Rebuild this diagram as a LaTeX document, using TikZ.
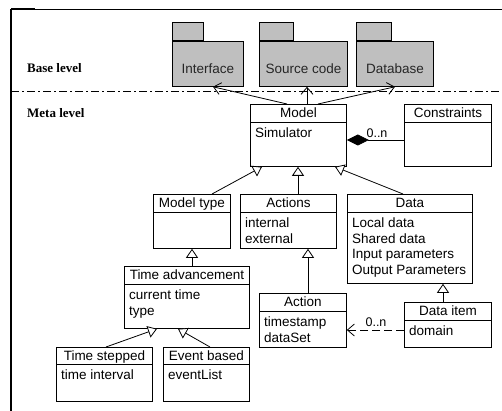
\documentclass[tikz,border=0pt]{standalone}
\usepackage{fontspec}
\setmainfont{Liberation Sans}
\newfontfamily\serifb{Liberation Serif}
\usetikzlibrary{arrows.meta}
\tikzset{
  box/.style={draw, line width=0.8pt, inner sep=0pt, fill=white},
  pkg/.style={draw, line width=0.8pt, inner sep=0pt, fill=gray!50},
  ttl/.style={inner sep=0pt, text height=9.7pt, text depth=0pt, font=\fontsize{13.5}{15.5}\selectfont},
  att/.style={inner sep=0pt, align=left, anchor=north west, font=\fontsize{13.5}{15.5}\selectfont},
  pkgtxt/.style={inner sep=0pt, text height=9.7pt, text depth=0pt, text=black!85, font=\fontsize{13.5}{15.5}\selectfont},
  lvl/.style={inner sep=0pt, anchor=west, text height=8.9pt, text depth=0pt, font=\serifb\bfseries\fontsize{13}{15}\selectfont},
  mult/.style={inner sep=0pt, font=\fontsize{12.5}{14}\selectfont},
  gen/.style={draw, line width=0.8pt, -{Triangle[length=9pt, width=12pt, fill=white]}},
  usearrow/.style={draw, line width=0.8pt, -{Straight Barb[length=7pt, width=12pt]}},
  deparrow/.style={draw, line width=0.8pt, dash pattern=on 8pt off 4pt, -{Straight Barb[length=7pt, width=12pt]}},
  comp/.style={draw, line width=0.8pt, {Diamond[length=22pt, width=11pt]}-},
}
\newcommand\umlclass[8]{%
  \node[box, minimum width=#4pt, minimum height=#5pt, anchor=north west] (#1) at (#2,#3) {};
  \draw[line width=0.8pt] ([yshift=-#6pt]#1.north west) -- ([yshift=-#6pt]#1.north east);
  \node[ttl] (#1t) at ([yshift={-0.5*#6pt}]#1.north) {#7};
  \node[att] (#1a) at ([xshift=5pt,yshift={-#6pt-6pt}]#1.north west) {#8};
}
\newcommand\umlpkg[7]{% name, x, y(body top), body w, body h, tab w, text
  \node[pkg, minimum width=#4pt, minimum height=#5pt, anchor=north west] (#1) at (#2,#3) {};
  \node[pkg, minimum width=#6pt, minimum height=18pt, anchor=south west] (#1tab) at (#1.north west) {};
  \node[pkgtxt] (#1t) at ([yshift=-4.5pt]#1.center) {#7};
}
\begin{document}
\begin{tikzpicture}[x=1pt, y=-1pt]
\useasboundingbox (0,0) rectangle (502,411);
% frame
\coordinate (ftl) at (11,9);
\coordinate (ftr) at (502,9);
\coordinate (fbl) at (11,411);
\coordinate (ftk) at (35,9);
\draw[line width=0.8pt] (ftl) -- (ftr);
\draw[line width=1.6pt] (ftl) -- (ftk);
\draw[line width=1.8pt] (ftl) -- (fbl);
% level separator
\coordinate (dl) at (11,91);
\coordinate (dr) at (502,91);
\draw[line width=0.8pt, dash pattern=on 8pt off 3pt on 2pt off 3pt] (dl) -- (dr);
\node[lvl] (base) at (27,68) {Base level};
\node[lvl] (meta) at (27,113) {Meta level};
% packages
\umlpkg{iface}{172}{41}{71}{45}{31}{Interface}
\umlpkg{src}{259}{41}{88}{45}{34}{Source code}
\umlpkg{db}{356}{41}{77}{45}{35}{Database}
% classes
\umlclass{model}{250}{104}{96}{62}{18}{Model}{Simulator}
\umlclass{cons}{404}{104}{87}{62}{18}{Constraints}{}
\umlclass{mtype}{153}{194}{77}{54}{18}{Model type}{}
\umlclass{acts}{240}{194}{96}{54}{18}{Actions}{internal\\external}
\umlclass{data}{347}{194}{125}{89}{18}{Data}{Local data\\Shared data\\Input parameters\\Output Parameters}
\umlclass{tadv}{124}{266}{125}{62}{18}{Time advancement}{current time\\type}
\umlclass{tstep}{56}{347}{96}{54}{17}{Time stepped}{time interval}
\umlclass{evb}{163}{347}{86}{54}{17}{Event based}{eventList}
\umlclass{act}{259}{293}{87}{54}{18}{Action}{timestamp\\dataSet}
\umlclass{ditem}{404}{302}{87}{45}{18}{Data item}{domain}
% usage arrows to packages
\draw[usearrow] ([xshift=37pt]model.north west) -- ([xshift=41pt]iface.south west);
\draw[usearrow] ([xshift=57pt]model.north west) -- ([xshift=48pt]src.south west);
\draw[usearrow] ([xshift=68pt]model.north west) -- ([xshift=39pt]db.south west);
% generalizations
\draw[gen] ([xshift=59pt]mtype.north west) -- ([xshift=12pt]model.south west);
\draw[gen] ([xshift=58pt]acts.north west) -- ([xshift=48pt]model.south west);
\draw[gen] ([xshift=56pt]data.north west) -- ([xshift=85pt]model.south west);
\draw[gen] ([xshift=68pt]tadv.north west) -- ([xshift=39pt]mtype.south west);
\draw[gen] ([xshift=50pt]tstep.north west) -- ([xshift=33pt]tadv.south west);
\draw[gen] ([xshift=47pt]evb.north west) -- ([xshift=54pt]tadv.south west);
\draw[gen] ([xshift=49pt]act.north west) -- ([xshift=68pt]acts.south west);
\draw[gen] ([xshift=39pt]ditem.north west) -- ([xshift=96pt]data.south west);
% composition
\draw[comp] ([yshift=-36pt]model.north east) -- ([yshift=-36pt]cons.north west);
\node[mult] (m1) at (377,133) {0..n};
% dependency
\draw[deparrow] ([yshift=-28pt]ditem.north west) -- ([yshift=-37pt]act.north east);
\node[mult] (m2) at (376,322) {0..n};
\end{tikzpicture}
\end{document}
